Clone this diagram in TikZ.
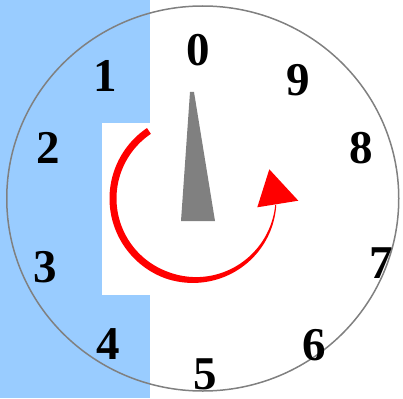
\documentclass[tikz,border=0pt]{standalone}
\usepackage{fontspec}
\setmainfont{Liberation Serif}
\definecolor{panelblue}{HTML}{99CCFF}
\definecolor{dialgray}{HTML}{808080}
\begin{document}
\begin{tikzpicture}[x=1pt,y=-1pt,
  digit/.style={font=\fontsize{47}{47}\selectfont\bfseries, inner sep=0pt, anchor=center}]
\useasboundingbox (0,0) rectangle (403,398);
% backgrounds
\fill[panelblue] (0,0) rectangle (150,398);
\fill[white] (102,123) rectangle (150,295);
% dial rim
\draw[dialgray, line width=1.5pt] (202.75,198.5) ellipse [x radius=196, y radius=192.5];
% needle
\fill[dialgray] (190,92) -- (194,92) -- (215,221) -- (181,221) -- cycle;
% tapered red arc
\fill[red] plot[domain=236:4.5, samples=120, smooth]
   ({194.5 + (81.5 + 0.5*(1 + 6*min(1,max(0,(\x-4.5)/105.5))))*cos(\x)},
    {198.5 + (81.5 + 0.5*(1 + 6*min(1,max(0,(\x-4.5)/105.5))))*sin(\x)})
  -- plot[domain=4.5:236, samples=120, smooth]
   ({194.5 + (81.5 - 0.5*(1 + 6*min(1,max(0,(\x-4.5)/105.5))))*cos(\x)},
    {198.5 + (81.5 - 0.5*(1 + 6*min(1,max(0,(\x-4.5)/105.5))))*sin(\x)})
  -- cycle;
% arrowhead
\fill[red] (269.3,169.3) -- (298.3,200.7) -- (257.3,207.3) -- cycle;
% digits
\node[digit] (d0) at (198,50) {0};
\node[digit] (d1) at (105,76) {1};
\node[digit] (d2) at (48,148) {2};
\node[digit] (d3) at (45,267) {3};
\node[digit] (d4) at (108,344) {4};
\node[digit] (d5) at (205,374) {5};
\node[digit] (d6) at (314,345) {6};
\node[digit] (d7) at (381,263) {7};
\node[digit] (d8) at (361,148) {8};
\node[digit] (d9) at (298,80) {9};
\end{tikzpicture}
\end{document}
